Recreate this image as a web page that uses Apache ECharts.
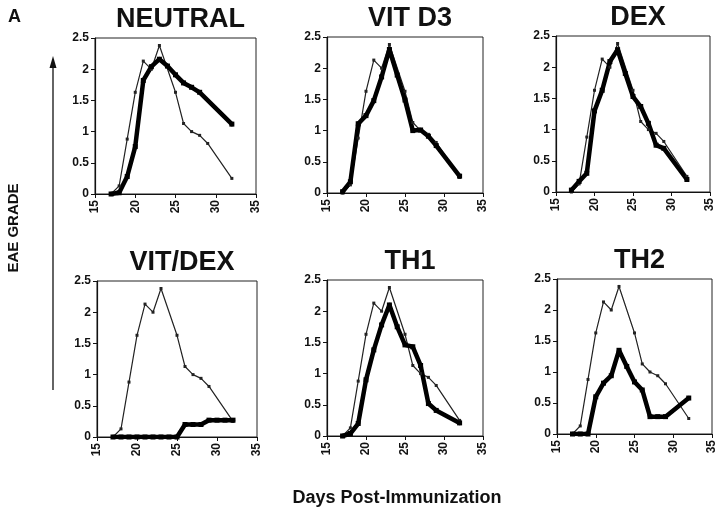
<!DOCTYPE html>
<html>
<head>
<meta charset="utf-8">
<script src="https://cdn.jsdelivr.net/npm/echarts@6/dist/echarts.min.js"></script>
<style>
  html, body { margin: 0; padding: 0; background: #fff; }
  #main { width: 720px; height: 513px; }
</style>
</head>
<body>
<div id="main"></div>
<script>
// control (neutral) curve, same in every panel
var controlDays = [17, 18, 19, 20, 21, 22, 23, 25, 26, 27, 28, 29, 32];
var controlGrade = [0, 0.13, 0.88, 1.63, 2.13, 2.0, 2.38, 1.63, 1.13, 1.0, 0.94, 0.81, 0.25];

var panelTitles = ['NEUTRAL', 'VIT D3', 'DEX', 'VIT/DEX', 'TH1', 'TH2'];

var neutralDays = [17, 18, 19, 20, 21, 22, 23, 24, 25, 26, 27, 28, 32];
var neutralGrade = [0, 0.02, 0.28, 0.76, 1.82, 2.04, 2.16, 2.05, 1.91, 1.78, 1.71, 1.63, 1.12];

var vitDays = [17, 18, 19, 20, 21, 22, 23, 24, 25, 26, 27, 28, 29, 32];
var vitGrade = [0.02, 0.18, 1.11, 1.24, 1.48, 1.86, 2.3, 1.89, 1.49, 1.0, 1.01, 0.91, 0.76, 0.27];

var dexDays = [17, 18, 19, 20, 21, 22, 23, 24, 25, 26, 27, 28, 29, 32];
var dexGrade = [0.03, 0.17, 0.3, 1.3, 1.63, 2.09, 2.28, 1.9, 1.53, 1.37, 1.1, 0.75, 0.7, 0.2];

var vitDexDays = [17, 18, 19, 20, 21, 22, 23, 24, 25, 26, 27, 28, 29, 30, 31, 32];
var vitDexGrade = [0, 0, 0, 0, 0, 0, 0, 0, 0, 0.2, 0.2, 0.2, 0.27, 0.27, 0.27, 0.27];

var th1Days = [17, 18, 19, 20, 21, 22, 23, 24, 25, 26, 27, 28, 29, 32];
var th1Grade = [0, 0.04, 0.2, 0.9, 1.38, 1.78, 2.1, 1.75, 1.46, 1.43, 1.13, 0.52, 0.41, 0.21];

var th2Days = [17, 18, 19, 20, 21, 22, 23, 24, 25, 26, 27, 28, 29, 32];
var th2Grade = [0, 0, 0, 0.6, 0.82, 0.94, 1.35, 1.09, 0.84, 0.71, 0.28, 0.28, 0.28, 0.58];

var treatDays = [neutralDays, vitDays, dexDays, vitDexDays, th1Days, th2Days];
var treatGrade = [neutralGrade, vitGrade, dexGrade, vitDexGrade, th1Grade, th2Grade];

var xTicks = [15, 20, 25, 30, 35];
var yTicks = [0, 0.5, 1, 1.5, 2, 2.5];

function pairs(xs, ys) {
  var res = [];
  for (var i = 0; i < xs.length; i++) res.push([xs[i], ys[i]]);
  return res;
}

var boxes = [
  { left: 95, right: 464, top: 38, bottom: 319 },
  { left: 327, right: 237, top: 37, bottom: 320 },
  { left: 556, right: 10, top: 36, bottom: 321 },
  { left: 97, right: 463, top: 281, bottom: 76 },
  { left: 327, right: 237, top: 280, bottom: 77 },
  { left: 557, right: 8, top: 279, bottom: 79 }
];

var font = 'Liberation Sans, Arial, sans-serif';
var grids = [], xAxes = [], yAxes = [], titles = [], series = [];

for (var p = 0; p < 6; p++) {
  var b = boxes[p];
  grids.push({
    left: b.left, right: b.right, top: b.top, bottom: b.bottom,
    show: true, borderColor: '#222', borderWidth: 1, backgroundColor: 'transparent'
  });
  var cx = b.left + (720 - b.right - b.left) / 2;
  titles.push({
    text: panelTitles[p],
    left: cx, top: b.top - 37,
    textAlign: 'center',
    textStyle: { fontFamily: font, fontSize: 27, fontWeight: 'bold', color: '#111' }
  });
  xAxes.push({
    gridIndex: p, type: 'value',
    min: xTicks[0], max: xTicks[xTicks.length - 1], interval: 5,
    axisLine: { lineStyle: { color: '#111', width: 1.2 } },
    axisTick: { show: true, length: 4, lineStyle: { color: '#111' } },
    splitLine: { show: false },
    axisLabel: { rotate: 90, fontFamily: font, fontSize: 12, fontWeight: 'bold', color: '#111', margin: 6 }
  });
  yAxes.push({
    gridIndex: p, type: 'value',
    min: yTicks[0], max: yTicks[yTicks.length - 1], interval: 0.5,
    axisLine: { show: true, lineStyle: { color: '#111', width: 1.2 } },
    axisTick: { show: true, length: 4, lineStyle: { color: '#111' } },
    splitLine: { show: false },
    axisLabel: { fontFamily: font, fontSize: 12, fontWeight: 'bold', color: '#111', margin: 6 }
  });
  series.push({
    type: 'line', xAxisIndex: p, yAxisIndex: p,
    data: pairs(controlDays, controlGrade),
    symbol: 'rect', symbolSize: 3, showAllSymbol: true,
    lineStyle: { color: '#222', width: 1.2 },
    itemStyle: { color: '#222' },
    animation: false, silent: true
  });
  series.push({
    type: 'line', xAxisIndex: p, yAxisIndex: p,
    data: pairs(treatDays[p], treatGrade[p]),
    symbol: 'rect', symbolSize: 5, showAllSymbol: true,
    lineStyle: { color: '#000', width: 4.5, join: 'round', cap: 'round' },
    itemStyle: { color: '#000' },
    animation: false, silent: true, z: 3
  });
}

titles.push({
  text: 'A', left: 3, top: 3,
  textStyle: { fontFamily: font, fontSize: 18, fontWeight: 'bold', color: '#111' }
});

var chart = echarts.init(document.getElementById('main'));
chart.setOption({
  backgroundColor: '#fff',
  animation: false,
  title: titles,
  grid: grids,
  xAxis: xAxes,
  yAxis: yAxes,
  series: series,
  graphic: [
    {
      type: 'text', rotation: Math.PI / 2,
      x: 14, y: 228,
      style: {
        text: 'EAE GRADE', fontFamily: font, fontSize: 15, fontWeight: 'bold',
        fill: '#111', textAlign: 'center', textVerticalAlign: 'middle'
      }
    },
    {
      type: 'line',
      shape: { x1: 53, y1: 390, x2: 53, y2: 64 },
      style: { stroke: '#111', lineWidth: 1.3 }
    },
    {
      type: 'polygon',
      shape: { points: [[53, 56], [49.5, 68], [56.5, 68]] },
      style: { fill: '#111' }
    },
    {
      type: 'text', x: 397, y: 498,
      style: {
        text: 'Days Post-Immunization', fontFamily: font, fontSize: 18, fontWeight: 'bold',
        fill: '#111', textAlign: 'center', textVerticalAlign: 'middle'
      }
    }
  ]
});
</script>
</body>
</html>
